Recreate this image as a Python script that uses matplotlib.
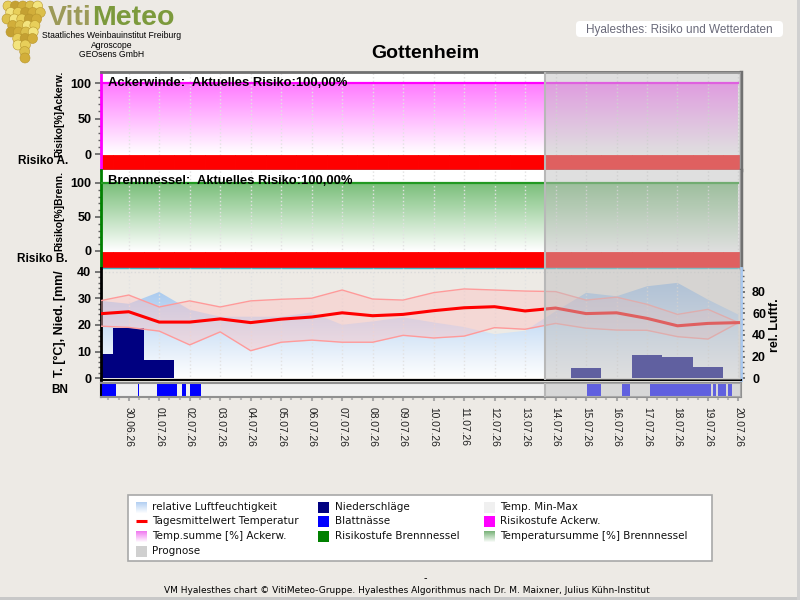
import numpy as np
import pandas as pd
import matplotlib
matplotlib.use("Agg")
import matplotlib.pyplot as plt
import matplotlib.dates as mdates
from matplotlib.patches import Rectangle, FancyBboxPatch, Circle
from matplotlib.colors import LinearSegmentedColormap, to_rgb
from matplotlib.ticker import FixedLocator

plt.rcParams['font.family'] = ['Liberation Sans', 'DejaVu Sans']

# ---------------- data ----------------
station = "Gottenheim"
header = "Hyalesthes: Risiko und Wetterdaten"
dates = pd.date_range("2026-06-29", "2026-07-20", freq="D")
tick_dates = pd.date_range("2026-06-30", "2026-07-20", freq="D")
tick_labels = ["30.06.26", "01.07.26", "02.07.26", "03.07.26", "04.07.26",
               "05.07.26", "06.07.26", "07.07.26", "08.07.26", "09.07.26",
               "10.07.26", "11.07.26", "12.07.26", "13.07.26", "14.07.26",
               "15.07.26", "16.07.26", "17.07.26", "18.07.26", "19.07.26",
               "20.07.26"]
temp_mean = [24.2, 25.0, 21.1, 21.1, 22.3, 20.9, 22.2, 23.0, 24.6, 23.5, 24.0,
             25.4, 26.5, 26.9, 25.3, 26.4, 24.3, 24.6, 22.5, 19.7, 20.6, 20.9]
temp_max = [29.0, 31.3, 26.8, 29.1, 26.8, 29.1, 29.7, 30.1, 33.2, 29.8, 29.4,
            32.2, 33.6, 33.2, 32.8, 32.6, 29.4, 30.5, 27.8, 24.0, 25.9, 20.9]
temp_min = [19.6, 19.1, 17.7, 12.5, 17.4, 10.3, 13.5, 14.3, 13.5, 13.5, 16.1,
            15.1, 15.8, 19.0, 18.4, 20.6, 18.8, 18.1, 18.0, 15.6, 14.7, 20.9]
humidity = [72, 69, 80, 63.5, 57, 57, 57, 61, 49.5, 52.6, 56.4,
            51.7, 47.4, 40.8, 43.9, 62, 79.2, 76, 85.3, 88.5, 72.9, 58.9]
precip = [9.0, 19.0, 6.8, 0, 0, 0, 0, 0, 0, 0, 0,
          0, 0, 0, 0, 0, 3.8, 0, 8.7, 7.9, 4.2, 0]
leaf_wetness = [("2026-06-29 00:00", "2026-06-29 13:40"),
                ("2026-06-30 07:20", "2026-06-30 08:00"),
                ("2026-06-30 22:00", "2026-07-01 13:40"),
                ("2026-07-01 17:45", "2026-07-01 21:20"),
                ("2026-07-02 00:00", "2026-07-02 08:30"),
                ("2026-07-15 01:00", "2026-07-15 11:30"),
                ("2026-07-16 04:00", "2026-07-16 10:20"),
                ("2026-07-17 02:00", "2026-07-19 02:00"),
                ("2026-07-19 03:40", "2026-07-19 06:40"),
                ("2026-07-19 08:00", "2026-07-19 14:30"),
                ("2026-07-19 16:00", "2026-07-19 19:00")]
temp_sum_ackerw = [100] * 22
temp_sum_brenn = [100] * 22
risk_ackerw = [3] * 22
risk_brenn = [3] * 22
current_risk_ackerw = "100,00%"
current_risk_brenn = "100,00%"
forecast_start = "2026-07-13 15:30"
view_start = "2026-06-29 02:10"
view_end = "2026-07-20 02:00"

# ---------------- style ----------------
BG = '#EDEAE5'
risk_colors = {1: '#00C000', 2: '#FFFF00', 3: '#FF0000'}
fig = plt.figure(figsize=(8, 6), dpi=100, facecolor=BG)


def fx(px):
    return px / 800


def fy(py):
    return 1 - py / 600


L, R = 101, 741


def add_ax(top, bottom):
    return fig.add_axes([fx(L), fy(bottom), fx(R - L), (bottom - top) / 600])


# decoration layer in pixel coordinates
deco = fig.add_axes([0, 0, 1, 1])
deco.set_xlim(0, 800)
deco.set_ylim(600, 0)
deco.axis('off')

ax1 = add_ax(72, 170)
ax2 = add_ax(170, 268)
ax3 = add_ax(268, 380)
ax4 = add_ax(383, 397)
ax3r = ax3.twinx()
ax3.set_zorder(ax3r.get_zorder() + 1)
ax3.patch.set_visible(False)

x0 = pd.Timestamp(view_start)
x1 = pd.Timestamp(view_end)
fc_start = pd.Timestamp(forecast_start)


def gradient_under(ax, x, y, color, ylo, yhi, z):
    coll = ax.fill_between(x, y, ylo, facecolor='none', edgecolor='none')
    path = coll.get_paths()[0]
    cmap = LinearSegmentedColormap.from_list('g', ['white', color])
    grad = np.linspace(0, 1, 256).reshape(-1, 1)
    xn = mdates.date2num(x)
    im = ax.imshow(grad, extent=[xn[0], xn[-1], ylo, yhi], origin='lower',
                   aspect='auto', cmap=cmap, zorder=z, interpolation='bilinear')
    im.set_clip_path(path, transform=ax.transData)


def risk_panel(ax, tsum, risk, fill_col, line_col, spine_col, title, ylim):
    gradient_under(ax, dates, tsum, fill_col, 0, 100, 1)
    ax.plot(dates, tsum, color=line_col, lw=1.6, zorder=3)
    band_bottom, band_top = ylim[0] - 1, -1.6
    ax.bar(dates, np.full(len(dates), band_top - band_bottom), bottom=band_bottom,
           width=1.0, color=[risk_colors[r] for r in risk],
           edgecolor=[risk_colors[r] for r in risk], lw=0.6, zorder=2)
    ax.set_ylim(*ylim)
    ax.set_yticks([0, 50, 100])
    ax.yaxis.set_minor_locator(FixedLocator(np.arange(0, 101, 10)))
    ax.text(0.011, 0.95, title, transform=ax.transAxes, fontsize=9.4,
            fontweight='bold', va='top', ha='left', zorder=12)
    ax.spines['left'].set_color(spine_col)
    ax.spines['left'].set_linewidth(2)
    ax.spines['top'].set_color('#707070')
    ax.spines['top'].set_linewidth(2)
    ax.spines['right'].set_color('#707070')
    ax.spines['right'].set_linewidth(2.5)
    ax.spines['bottom'].set_color('#40B8C8')
    ax.spines['bottom'].set_linewidth(1)


risk_panel(ax1, temp_sum_ackerw, risk_ackerw, '#FF78FF', '#FF00FF', '#FF00FF',
           "Ackerwinde:  Aktuelles Risiko:" + current_risk_ackerw, (-22.5, 115.5))
risk_panel(ax2, temp_sum_brenn, risk_brenn, '#78BE78', '#229922', '#008000',
           "Brennnessel:  Aktuelles Risiko:" + current_risk_brenn, (-25, 119))
ax2.spines['top'].set_visible(False)

# weather panel
gradient_under(ax3r, dates, humidity, '#96BEEB', 0, 100, 1)
ax3r.set_ylim(-1.85, 102.3)
ax3r.set_yticks([0, 20, 40, 60, 80])
ax3r.yaxis.set_minor_locator(FixedLocator(np.arange(0, 101, 5)))
ax3.bar(dates, precip, width=1.0, color='#000080', lw=0, zorder=2)
ax3.fill_between(dates, temp_min, temp_max, color='#FFBEBE', alpha=0.4, lw=0, zorder=3)
ax3.plot(dates, temp_max, color='#FF9A9A', lw=1, zorder=4)
ax3.plot(dates, temp_min, color='#FF9A9A', lw=1, zorder=4)
ax3.plot(dates, temp_mean, color='#FF0000', lw=2.2, zorder=5)
ax3.set_ylim(-0.75, 41.5)
ax3.set_yticks([0, 10, 20, 30, 40])
ax3.yaxis.set_minor_locator(FixedLocator(np.arange(0, 41, 2)))
ax3.axhline(40, color='#DADADA', ls=':', lw=1, zorder=1)
ax3.spines['top'].set_visible(False)
ax3r.spines['top'].set_visible(False)
ax3.spines['left'].set_linewidth(2)
ax3.spines['left'].set_color('black')
ax3.spines['bottom'].set_linewidth(1.5)
ax3.spines['right'].set_visible(False)
ax3r.spines['left'].set_visible(False)
ax3r.spines['bottom'].set_visible(False)
ax3r.spines['right'].set_color('#A8C8F0')
ax3r.spines['right'].set_linewidth(2)

# leaf wetness strip
ax4.set_facecolor('#F0F0F0')
for s, e in leaf_wetness:
    ax4.axvspan(pd.Timestamp(s), pd.Timestamp(e), ymin=0.07, ymax=0.93,
                color='#0000FF', lw=0)
ax4.set_ylim(0, 1)
ax4.set_yticks([])
for sp in ax4.spines.values():
    sp.set_color('#909090')
    sp.set_linewidth(1.5)
ax4.spines['left'].set_color('black')

# common x handling
for ax in (ax1, ax2, ax3, ax3r, ax4):
    ax.set_xlim(x0, x1)
for ax in (ax1, ax2, ax3):
    ax.set_xticks(tick_dates)
    ax.tick_params(axis='x', which='both', length=0, labelbottom=False)
    ax.grid(axis='x', color='#E2E2E2', linestyle=':', lw=1)
    ax.tick_params(axis='y', which='major', length=4, width=1.2, color='#606060',
                   labelsize=9, pad=3)
    ax.tick_params(axis='y', which='minor', length=2, width=1, color='#606060')
    for lab in ax.get_yticklabels():
        lab.set_fontweight('bold')
ax3r.tick_params(axis='y', which='major', length=3, width=1.2, color='#606060',
                 labelsize=9, pad=5)
ax3r.tick_params(axis='y', which='minor', length=2, width=1, color='#606060')
for lab in ax3r.get_yticklabels():
    lab.set_fontweight('bold')

ax4.set_xticks(tick_dates)
ax4.set_xticklabels(tick_labels, rotation=270, fontsize=7.4,
                    ha='center', va='top', color='#202020')
ax4.xaxis.set_minor_locator(mdates.HourLocator(byhour=[8, 16]))
ax4.tick_params(axis='x', which='major', length=3, width=1.5, color='#A8A8A8', pad=4)
ax4.tick_params(axis='x', which='minor', length=2, width=1.5, color='#B8B8B8')

# forecast overlay
for ax in (ax1, ax2, ax3, ax4):
    ax.axvspan(fc_start, x1, color='#C0C0C0', alpha=0.5, lw=0, zorder=10)
    ax.axvline(fc_start, color='#B8B8B8', lw=1.5, zorder=11)

# ---------------- texts ----------------
fig.text(fx(425), fy(53), station, ha='center', va='center', fontsize=14,
         fontweight='bold')
fig.text(fx(775), fy(325), "rel. Luftf.", rotation=90, ha='center', va='center',
         fontsize=9, fontweight='bold')
for label, py in (("Risiko A.", 161), ("Risiko B.", 259), ("BN", 390)):
    fig.text(fx(68), fy(py), label, ha='right', va='center', fontsize=8.5,
             fontweight='bold')

fig.text(fx(59), fy(71), "Risiko[%]Ackerw.", rotation=90, ha='center', va='top',
         fontsize=7.4, fontweight='bold')
fig.text(fx(59), fy(171), "Risiko[%]Brenn.", rotation=90, ha='center', va='top',
         fontsize=7.4, fontweight='bold')
fig.text(fx(60), fy(377), "T. [°C], Nied. [mm/", rotation=90, ha='center',
         va='bottom', fontsize=9, fontweight='bold')

# header box
deco.add_patch(FancyBboxPatch((576, 21), 207, 16,
                              boxstyle="round,pad=0,rounding_size=4",
                              fc='white', ec='none'))
deco.text(586, 29.5, header, fontsize=8.5, color='#6A6A7A', ha='left', va='center')

# logo
grape_cols = ['#E8CF5A', '#D2AE3A', '#F3E47E', '#C4A032', '#DCC04C']
rows = [(6, 3, 45), (12.5, 2, 46), (19, 2, 45), (25.5, 4, 43), (32, 6, 41),
        (38.5, 9, 38), (45, 13, 35), (51.5, 16, 32), (58, 20, 30)]
for i, (cy, xa, xb) in enumerate(rows):
    xs = np.arange(xa + 5 + (i % 2) * 3.7, xb - 3, 7.4)
    for j, cx in enumerate(xs):
        deco.add_patch(Circle((cx, cy), 5.0, fc=grape_cols[(i * 2 + j * 3) % 5],
                              ec='#B8962C', lw=0.4))
tv = deco.text(48, 25, "Viti", fontsize=20.5, fontweight='bold', color='#9C9A58',
               ha='left', va='baseline')
fig.canvas.draw()
bb = tv.get_window_extent()
deco.text(bb.x1, 25, "Meteo", fontsize=20.5, fontweight='bold', color='#7C9A3C',
          ha='left', va='baseline')
deco.text(112, 35.5, "Staatliches Weinbauinstitut Freiburg", fontsize=6.2, ha='center',
          va='center')
deco.text(112, 45, "Agroscope", fontsize=6.2, ha='center', va='center')
deco.text(112, 54.5, "GEOsens GmbH", fontsize=6.2, ha='center', va='center')

# legend
deco.add_patch(Rectangle((128, 495), 584, 66, fc='white', ec='#A8A8A8', lw=1.2))
col_icon = [136, 318, 484]
col_text = [152, 335, 500]
row_y = [507, 521, 536, 551]
legend_items = [
    ("relative Luftfeuchtigkeit", ('grad', '#B4D0F2')),
    ("Tagesmittelwert Temperatur", ('line', '#FF0000')),
    ("Temp.summe [%] Ackerw.", ('grad', '#F07CF0')),
    ("Prognose", ('box', '#D0D0D0')),
    ("Niederschläge", ('box', '#000080')),
    ("Blattnässe", ('box', '#0000FF')),
    ("Risikostufe Brennnessel", ('box', '#008000')),
    ("Temp. Min-Max", ('box', '#F0F0F0')),
    ("Risikostufe Ackerw.", ('box', '#FF00FF')),
    ("Temperatursumme [%] Brennnessel", ('grad', '#7CB47C')),
]
slots = [(0, 0), (0, 1), (0, 2), (0, 3), (1, 0), (1, 1), (1, 2), (2, 0), (2, 1), (2, 2)]
for (label, (kind, col)), (c, r) in zip(legend_items, slots):
    xi, yi = col_icon[c], row_y[r]
    if kind == 'line':
        deco.plot([xi, xi + 11], [yi, yi], color=col, lw=2.2, solid_capstyle='butt')
    elif kind == 'grad':
        top = np.array(to_rgb(col))
        n = 11
        for k in range(n):
            f = k / (n - 1) * 0.92
            c_k = top * (1 - f) + np.ones(3) * f
            deco.add_patch(Rectangle((xi, yi - 5.5 + k), 11, 1.05, fc=c_k, ec='none'))
    else:
        deco.add_patch(Rectangle((xi, yi - 5.5), 11, 11, fc=col, ec='none'))
    deco.text(col_text[c], yi, label, fontsize=7.5, family=['DejaVu Sans'],
              ha='left', va='center', color='#101010')
deco.set_xlim(0, 800)
deco.set_ylim(600, 0)

# footer
deco.text(425, 578, "-", fontsize=7, ha='center', va='center', family=['DejaVu Sans'])
deco.text(407, 590.5, "VM Hyalesthes chart \u00a9 VitiMeteo-Gruppe. Hyalesthes Algorithmus "
          "nach Dr. M. Maixner, Julius K\u00fchn-Institut", fontsize=6.5,
          family=['DejaVu Sans'], ha='center', va='center')
deco.add_patch(Rectangle((0, 597), 800, 3, fc='#C8C8C8', ec='none'))
deco.add_patch(Rectangle((797, 0), 3, 600, fc='#D0D0D0', ec='none'))

fig.savefig("out.png", dpi=100, facecolor=BG)
